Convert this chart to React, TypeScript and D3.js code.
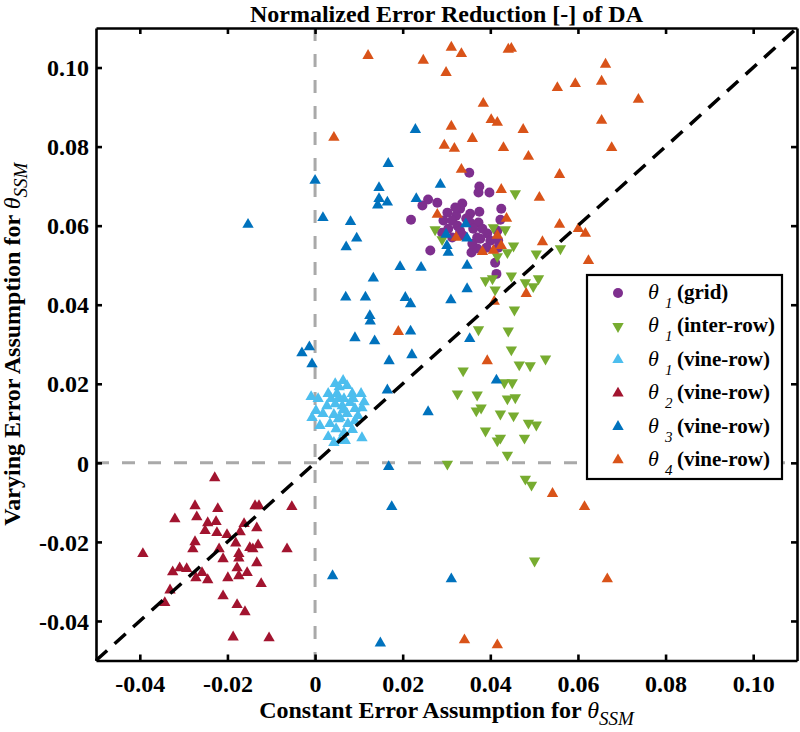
import { useEffect, useRef } from "react";
import * as d3 from "d3";

// axis ticks
const xTickValues = [-0.04, -0.02, 0, 0.02, 0.04, 0.06, 0.08, 0.1];
const xTickLabels = ["-0.04", "-0.02", "0", "0.02", "0.04", "0.06", "0.08", "0.10"];
const yTickValues = [-0.04, -0.02, 0, 0.02, 0.04, 0.06, 0.08, 0.1];
const yTickLabels = ["-0.04", "-0.02", "0", "0.02", "0.04", "0.06", "0.08", "0.10"];

// [constant error, varying error]
const gridPts = [
  [0.0352, 0.0734], [0.0375, 0.0699], [0.0373, 0.0684], [0.0398, 0.0684], [0.0258, 0.0666],
  [0.0279, 0.0658], [0.0245, 0.0651], [0.0336, 0.0656], [0.0331, 0.0643], [0.0425, 0.0643],
  [0.0302, 0.0633], [0.0322, 0.0625], [0.0354, 0.063], [0.0375, 0.0635], [0.0219, 0.0615],
  [0.0293, 0.0613], [0.0313, 0.0613], [0.0325, 0.06], [0.0354, 0.0608], [0.0373, 0.0608],
  [0.0423, 0.0615], [0.0304, 0.0592], [0.0331, 0.0587], [0.0361, 0.0592], [0.0382, 0.0592],
  [0.0313, 0.057], [0.0338, 0.0575], [0.037, 0.057], [0.0393, 0.058], [0.04, 0.0562],
  [0.0418, 0.0562], [0.0263, 0.0537], [0.0357, 0.0532], [0.037, 0.0542], [0.0391, 0.0544],
  [0.0418, 0.0544], [0.0411, 0.0506], [0.0414, 0.0478], [0.0359, 0.0554], [0.029, 0.0582],
  [0.0416, 0.0587], [0.0377, 0.0567], [0.0345, 0.0618], [0.032, 0.0646],
];

const interRowPts = [
  [0.0457, 0.0681], [0.0274, 0.059], [0.029, 0.0565], [0.0407, 0.0595], [0.0434, 0.059],
  [0.0453, 0.0549], [0.0439, 0.0532], [0.0505, 0.0529], [0.056, 0.0542], [0.0416, 0.0522],
  [0.0448, 0.0473], [0.0389, 0.0461], [0.0405, 0.0466], [0.048, 0.0456], [0.051, 0.0466],
  [0.0498, 0.0446], [0.0411, 0.0438], [0.0455, 0.0387], [0.0373, 0.0337], [0.0441, 0.0334],
  [0.0448, 0.0286], [0.0466, 0.0248], [0.0491, 0.0246], [0.0526, 0.0263], [0.0338, 0.0233],
  [0.0432, 0.0203], [0.045, 0.0203], [0.0325, 0.0175], [0.037, 0.0172], [0.0439, 0.0162],
  [0.0457, 0.0165], [0.0379, 0.0139], [0.0368, 0.0132], [0.0423, 0.0124], [0.0453, 0.0119],
  [0.0487, 0.0101], [0.0505, 0.0096], [0.0389, 0.0081], [0.0423, 0.0063], [0.0416, 0.0056],
  [0.0478, 0.0063], [0.0439, 0.002], [0.0302, -0.0003], [0.048, -0.0041], [0.0494, -0.0056],
  [0.0501, -0.0248],
];

const vineRow1Pts = [
  [0.0064, 0.0208], [0.0046, 0.02], [0.0055, 0.0192], [0.0073, 0.0195], [0.003, 0.0175],
  [0.005, 0.0175], [0.0085, 0.0175], [0.0105, 0.0175], [-0.0009, 0.0167], [0.0007, 0.0162],
  [0.0053, 0.0162], [0.0066, 0.0162], [0.0112, 0.0154], [0.0027, 0.0144], [0.0046, 0.0149],
  [0.0062, 0.0144], [0.008, 0.0152], [0.0091, 0.0137], [0.0107, 0.0139], [0.0064, 0.0134],
  [-0.0007, 0.0114], [0.0018, 0.0124], [0.0043, 0.0122], [0.0073, 0.0124], [0.0098, 0.0119],
  [0.0057, 0.0114], [0.0011, 0.0094], [0.0034, 0.0099], [0.0053, 0.0111], [0.0075, 0.0099],
  [0.0091, 0.0106], [0.0085, 0.0084], [0.003, 0.0066], [0.0043, 0.0051], [0.0057, 0.0056],
  [0.0069, 0.0056], [0.0107, 0.0063], [0.0048, 0.0086], [0.0066, 0.0076], [0.0002, 0.0132],
  [0.0087, 0.0162], [0.0037, 0.0162],
];

const vineRow2Pts = [
  [-0.0229, -0.0038], [-0.0274, -0.0109], [-0.0222, -0.0116], [-0.0137, -0.0109], [-0.0128, -0.0109],
  [-0.0053, -0.0111], [-0.032, -0.0142], [-0.027, -0.0137], [-0.0245, -0.0152], [-0.0226, -0.0149],
  [-0.0251, -0.0172], [-0.0224, -0.0177], [-0.0201, -0.0182], [-0.0171, -0.0175], [-0.0162, -0.0154],
  [-0.0133, -0.0165], [-0.0181, -0.0203], [-0.0274, -0.02], [-0.0279, -0.0218], [-0.0219, -0.0218],
  [-0.0149, -0.0215], [-0.0142, -0.0218], [-0.013, -0.0208], [-0.0064, -0.0218], [-0.0393, -0.023],
  [-0.021, -0.0243], [-0.0174, -0.0241], [-0.0133, -0.0253], [-0.0325, -0.0276], [-0.0309, -0.0266],
  [-0.0293, -0.0268], [-0.0258, -0.0278], [-0.0178, -0.0266], [-0.0155, -0.0278], [-0.0272, -0.0291],
  [-0.0245, -0.0296], [-0.0199, -0.0291], [-0.0174, -0.0286], [-0.0123, -0.0306], [-0.0331, -0.0322],
  [-0.021, -0.0337], [-0.0343, -0.0354], [-0.0178, -0.0359], [-0.016, -0.0377], [-0.0187, -0.0441],
  [-0.0105, -0.0443], [-0.0174, -0.023],
];

const vineRow3Pts = [
  [0.0229, 0.0843], [0.0167, 0.0757], [0.0, 0.0714], [0.0146, 0.0696], [0.0286, 0.0704],
  [0.0146, 0.0668], [0.0165, 0.0659], [0.0143, 0.0652], [0.0231, 0.0668], [0.0018, 0.062],
  [0.0081, 0.061], [0.0095, 0.0568], [0.0071, 0.0546], [-0.0153, 0.0603], [0.0344, 0.0604],
  [0.0299, 0.0578], [0.0347, 0.0568], [0.0301, 0.0549], [0.0304, 0.0532], [0.0194, 0.0496],
  [0.0242, 0.0494], [0.0347, 0.0499], [0.0133, 0.0467], [0.0347, 0.044], [0.007, 0.0419],
  [0.0115, 0.0419], [0.0206, 0.0418], [0.0218, 0.0402], [0.031, 0.0412], [0.0125, 0.0372],
  [0.0126, 0.0358], [0.0091, 0.0316], [0.0136, 0.0308], [0.0218, 0.0333], [0.0353, 0.0314],
  [-0.0013, 0.0293], [-0.003, 0.0278], [-0.0007, 0.025], [0.0169, 0.0258], [0.0221, 0.0273],
  [0.0165, 0.0184], [0.0414, 0.0209], [0.0258, 0.0129], [0.0168, -0.001], [0.0175, -0.0111],
  [0.004, -0.0286], [0.0149, -0.0456], [0.0311, -0.0294],
];

const vineRow4Pts = [
  [0.0121, 0.103], [0.0311, 0.1051], [0.0334, 0.1035], [0.0247, 0.1018], [0.0299, 0.0987],
  [0.0441, 0.1046], [0.0448, 0.1048], [0.0663, 0.1008], [0.0553, 0.0949], [0.0594, 0.0959],
  [0.0654, 0.0965], [0.0738, 0.0919], [0.0384, 0.0909], [0.0402, 0.0868], [0.0416, 0.0861],
  [0.0475, 0.0843], [0.0654, 0.0866], [0.0311, 0.0851], [0.0359, 0.082], [0.0295, 0.0803],
  [0.0318, 0.0795], [0.043, 0.0797], [0.0487, 0.0775], [0.0677, 0.0797], [0.0043, 0.0823],
  [0.0334, 0.0742], [0.0558, 0.0729], [0.0425, 0.0691], [0.0512, 0.0671], [0.0279, 0.0628],
  [0.0437, 0.0618], [0.0558, 0.0603], [0.0601, 0.0592], [0.0617, 0.058], [0.0322, 0.057],
  [0.0416, 0.0575], [0.0519, 0.0559], [0.0382, 0.0534], [0.0407, 0.0537], [0.0425, 0.0549],
  [0.0624, 0.0511], [0.0482, 0.0428], [0.0409, 0.0408], [0.0393, 0.0258], [0.0542, -0.0078],
  [0.0615, -0.0111], [0.0667, -0.0294], [0.0341, -0.0448], [0.0416, -0.0461], [0.019, 0.0332],
];

const seriesData = [gridPts, interRowPts, vineRow1Pts, vineRow2Pts, vineRow3Pts, vineRow4Pts];
const seriesSubs = ["1", "1", "1", "2", "3", "4"];
const seriesNames = ["(grid)", "(inter-row)", "(vine-row)", "(vine-row)", "(vine-row)", "(vine-row)"];
const seriesColors = ["#7E2F8E", "#77AC30", "#4DBEEE", "#A2142F", "#0072BD", "#D95319"];
const seriesShapes = ["circle", "down", "up", "up", "up", "up"];

const App = () => {
  const svgRef = useRef(null);

  useEffect(() => {
    const svg = d3.select(svgRef.current);
    svg.selectAll("*").remove();

    const box = { left: 96, right: 797, top: 28, bottom: 660.5 };
    const font = "'Liberation Serif', 'Times New Roman', serif";

    const x = d3.scaleLinear().domain([-0.05, 0.11]).range([box.left, box.right]);
    const y = d3.scaleLinear().domain([-0.05, 0.11]).range([box.bottom, box.top]);

    const symbolPath = (shape) => {
      if (shape === "circle") return d3.symbol(d3.symbolCircle, 78)();
      return d3.symbol(d3.symbolTriangle, 56)();
    };
    const transformFor = (shape, px, py) =>
      shape === "down" ? `translate(${px},${py}) rotate(180)` : `translate(${px},${py})`;

    // zero lines
    svg.append("line")
      .attr("x1", x(0)).attr("x2", x(0)).attr("y1", box.top).attr("y2", box.bottom)
      .attr("stroke", "#a9a9a9").attr("stroke-width", 3).attr("stroke-dasharray", "13,13");
    svg.append("line")
      .attr("x1", box.left).attr("x2", box.right).attr("y1", y(0)).attr("y2", y(0))
      .attr("stroke", "#a9a9a9").attr("stroke-width", 3).attr("stroke-dasharray", "13,13");

    // points
    seriesData.forEach((pts, i) => {
      svg.append("g")
        .selectAll("path")
        .data(pts)
        .enter()
        .append("path")
        .attr("d", symbolPath(seriesShapes[i]))
        .attr("transform", (d) => transformFor(seriesShapes[i], x(d[0]), y(d[1])))
        .attr("fill", seriesColors[i]);
    });

    // 1:1 line
    svg.append("line")
      .attr("x1", x(-0.05)).attr("y1", y(-0.05)).attr("x2", x(0.11)).attr("y2", y(0.11))
      .attr("stroke", "#000").attr("stroke-width", 3.5).attr("stroke-dasharray", "15,10");

    // axes with inward ticks on all four sides
    const styleAxis = (g) => {
      g.select(".domain").attr("stroke", "#000").attr("stroke-width", 2.6);
      g.selectAll(".tick line").attr("stroke", "#000").attr("stroke-width", 2.6);
      g.selectAll("text")
        .style("font-family", font)
        .style("font-weight", "bold")
        .style("font-size", "24px")
        .attr("fill", "#000");
    };

    svg.append("g")
      .attr("transform", `translate(0,${box.bottom})`)
      .call(d3.axisBottom(x).tickValues(xTickValues).tickSizeInner(-6).tickSizeOuter(0)
        .tickFormat((d, i) => xTickLabels[i]))
      .call(styleAxis)
      .selectAll("text").attr("y", 31).attr("dy", 0);

    svg.append("g")
      .attr("transform", `translate(${box.left},0)`)
      .call(d3.axisLeft(y).tickValues(yTickValues).tickSizeInner(-6).tickSizeOuter(0)
        .tickPadding(7).tickFormat((d, i) => yTickLabels[i]))
      .call(styleAxis)
      .selectAll("text").attr("dy", "0.34em");

    svg.append("g")
      .attr("transform", `translate(0,${box.top})`)
      .call(d3.axisTop(x).tickValues(xTickValues).tickSizeInner(-6).tickSizeOuter(0).tickFormat(() => ""))
      .call(styleAxis);

    svg.append("g")
      .attr("transform", `translate(${box.right},0)`)
      .call(d3.axisRight(y).tickValues(yTickValues).tickSizeInner(-6).tickSizeOuter(0).tickFormat(() => ""))
      .call(styleAxis);

    // title
    svg.append("text")
      .attr("x", (box.left + box.right) / 2)
      .attr("y", 22)
      .attr("text-anchor", "middle")
      .style("font-family", font)
      .style("font-weight", "bold")
      .style("font-size", "24px")
      .text("Normalized Error Reduction [-] of DA");

    // axis labels
    const axisLabel = (g, main) => {
      const t = g.append("text")
        .attr("text-anchor", "middle")
        .style("font-family", font)
        .style("font-weight", "bold")
        .style("font-size", "24px");
      t.append("tspan").text(main);
      t.append("tspan").style("font-style", "italic").style("font-weight", "normal").text("θ");
      t.append("tspan").style("font-style", "italic").style("font-weight", "normal")
        .style("font-size", "19px").attr("dy", 7).text("SSM");
    };

    axisLabel(
      svg.append("g").attr("transform", `translate(${(box.left + box.right) / 2},718)`),
      "Constant Error Assumption for "
    );
    axisLabel(
      svg.append("g").attr("transform", `translate(20,${(box.top + box.bottom) / 2}) rotate(-90)`),
      "Varying Error Assumption for "
    );

    // legend
    const leg = svg.append("g");
    leg.append("rect")
      .attr("x", 587).attr("y", 275).attr("width", 195).attr("height", 204)
      .attr("fill", "#fff").attr("stroke", "#000").attr("stroke-width", 2.2);

    seriesNames.forEach((name, i) => {
      const cy = 293 + i * 33.4;
      leg.append("path")
        .attr("d", symbolPath(seriesShapes[i]))
        .attr("transform", transformFor(seriesShapes[i], 618, cy))
        .attr("fill", seriesColors[i]);
      leg.append("text")
        .attr("x", 648).attr("y", cy + 6)
        .style("font-family", font).style("font-style", "italic").style("font-size", "22px")
        .text("θ");
      leg.append("text")
        .attr("x", 665).attr("y", cy + 15)
        .style("font-family", font).style("font-style", "italic").style("font-size", "15px")
        .text(seriesSubs[i]);
      leg.append("text")
        .attr("x", 677).attr("y", cy + 6)
        .style("font-family", font).style("font-weight", "bold").style("font-size", "21px")
        .text(name);
    });
  }, []);

  return (
    <svg
      ref={svgRef}
      width={800}
      height={732}
      style={{ position: "absolute", left: 0, top: 0, background: "#fff" }}
    />
  );
};

export default App;
